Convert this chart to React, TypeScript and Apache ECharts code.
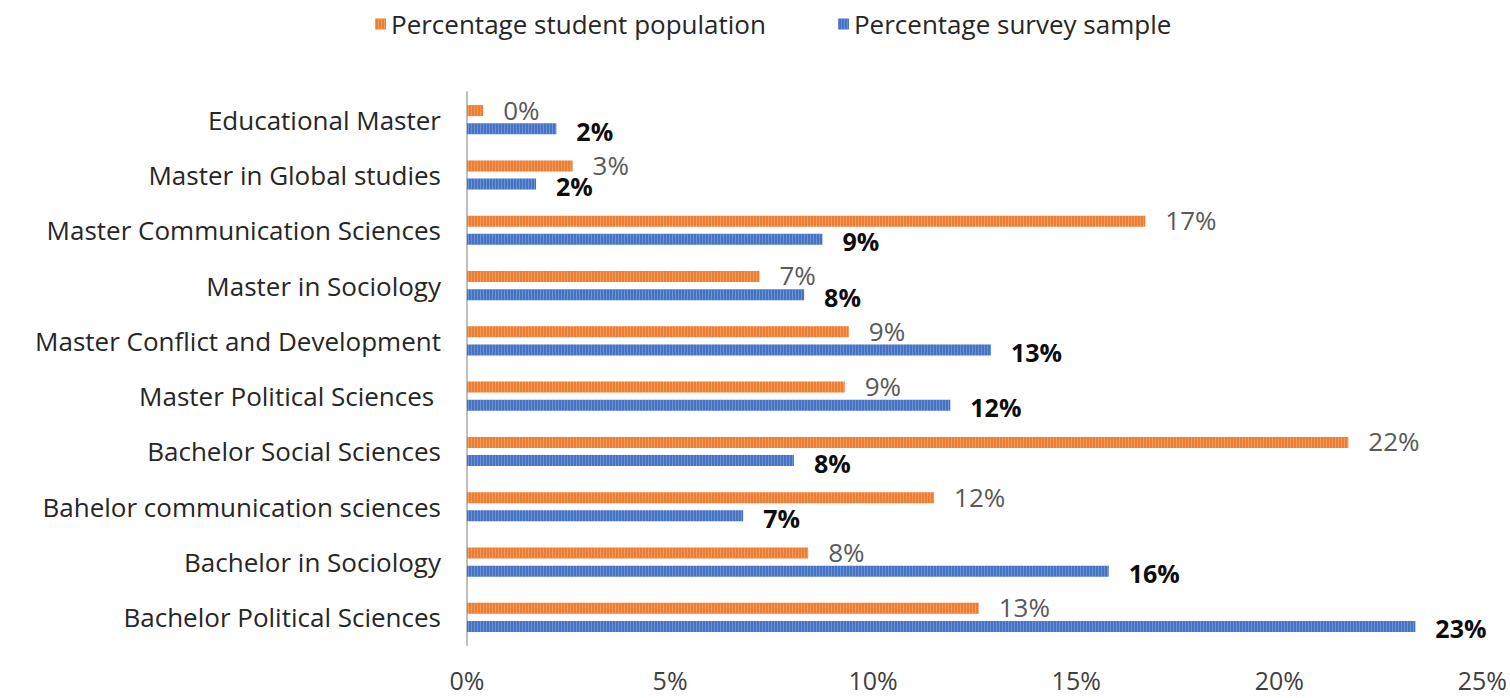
import React, { useEffect, useRef } from "react";
import * as echarts from "echarts";

const categories = [
  "Educational Master",
  "Master in Global studies",
  "Master Communication Sciences",
  "Master in Sociology",
  "Master Conflict and Development",
  "Master Political Sciences ",
  "Bachelor Social Sciences",
  "Bahelor communication sciences",
  "Bachelor in Sociology",
  "Bachelor Political Sciences",
];
const studentPopulation = [0.4, 2.6, 16.7, 7.2, 9.4, 9.3, 21.7, 11.5, 8.4, 12.6];
const surveySample = [2.2, 1.7, 8.75, 8.3, 12.9, 11.9, 8.05, 6.8, 15.8, 23.35];
const xTicks = [0, 5, 10, 15, 20, 25];

const FONT = "Open Sans";
const FS = 26;

export default function App() {
  const ref = useRef<HTMLDivElement>(null);
  useEffect(() => {
    if (!ref.current) return;
    const chart = echarts.init(ref.current, null, { renderer: "svg" });
    const decal = (c: string) => ({
      symbol: "rect",
      symbolSize: 1,
      dashArrayX: [1, 2],
      dashArrayY: [4, 0],
      color: c,
      rotation: 0,
    });
    chart.setOption({
      animation: false,
      backgroundColor: "#ffffff",
      aria: { enabled: true, decal: { show: true } },
      legend: {
        top: 6,
        left: 370,
        itemWidth: 11,
        itemHeight: 11,
        itemGap: 72,
        icon: "rect",
        textStyle: { fontFamily: FONT, fontSize: FS, color: "#262626" },
        data: ["Percentage student population", "Percentage survey sample"],
      },
      grid: { left: 467, right: 27, top: 92, bottom: 53, containLabel: false },
      xAxis: {
        type: "value",
        min: xTicks[0],
        max: xTicks[xTicks.length - 1],
        interval: 5,
        axisLine: { show: false },
        axisTick: { show: false },
        splitLine: { show: false },
        axisLabel: {
          margin: 22,
          fontFamily: FONT,
          fontSize: FS - 1,
          color: "#404040",
          formatter: (v: number) => v + "%",
        },
      },
      yAxis: {
        type: "category",
        inverse: true,
        data: categories,
        axisLine: { show: true, lineStyle: { color: "#bfbfbf", width: 2 } },
        axisTick: { show: false },
        axisLabel: { margin: 26, fontFamily: FONT, fontSize: FS, color: "#262626" },
      },
      series: [
        {
          name: "Percentage student population",
          type: "bar",
          data: studentPopulation,
          barWidth: 11,
          barGap: "65%",
          itemStyle: { color: "#ED7D31", decal: decal("rgba(255,255,255,0.22)") },
          label: {
            show: true,
            position: "right",
            distance: 20,
            offset: [0, -1],
            fontFamily: FONT,
            fontSize: FS,
            color: "#595959",
            formatter: (p: any) => Math.round(p.value) + "%",
          },
        },
        {
          name: "Percentage survey sample",
          type: "bar",
          data: surveySample,
          barWidth: 11,
          barGap: "65%",
          itemStyle: { color: "#4472C4", decal: decal("rgba(255,255,255,0.22)") },
          label: {
            show: true,
            position: "right",
            distance: 20,
            offset: [0, 2],
            fontFamily: FONT,
            fontSize: FS - 1,
            fontWeight: "bold",
            color: "#0d0d0d",
            formatter: (p: any) => Math.round(p.value) + "%",
          },
        },
      ],
    });
    return () => chart.dispose();
  }, []);
  return (
    <div
      ref={ref}
      style={{ position: "absolute", left: 0, top: 0, width: 1510, height: 698 }}
    />
  );
}
